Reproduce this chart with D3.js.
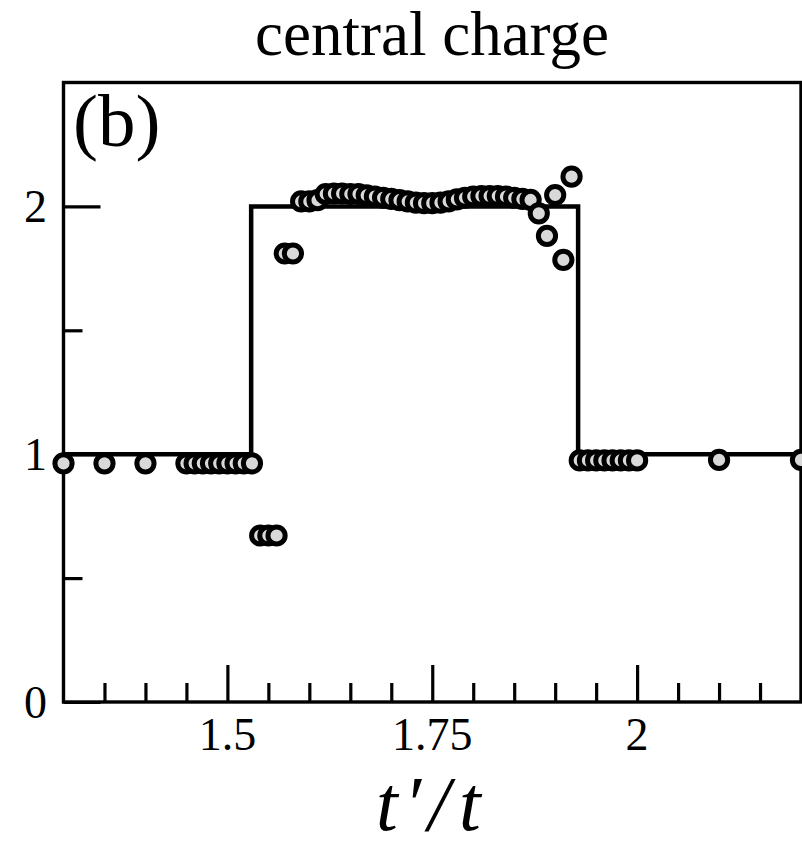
<!DOCTYPE html>
<html>
<head>
<meta charset="utf-8">
<script src="https://cdn.jsdelivr.net/npm/d3@7"></script>
<style>
  html, body { margin: 0; padding: 0; background: #fff; }
  svg { display: block; }
  text { font-family: "Liberation Serif", "DejaVu Serif", serif; fill: #000; }
</style>
</head>
<body>
<svg id="chart" width="802" height="849"></svg>
<script>
// ---- data ----
const tRatio = [1.30, 1.35, 1.40, 1.45, 1.46, 1.47, 1.48, 1.49, 1.50, 1.51, 1.52, 1.53,
  1.54, 1.55, 1.56, 1.57, 1.58,
  1.59, 1.60, 1.61, 1.62, 1.63, 1.64, 1.65, 1.66, 1.67, 1.68, 1.69, 1.70,
  1.71, 1.72, 1.73, 1.74, 1.75, 1.76, 1.77, 1.78, 1.79, 1.80, 1.81, 1.82,
  1.83, 1.84, 1.85, 1.86, 1.87, 1.88, 1.89, 1.90, 1.91, 1.92,
  1.93, 1.94, 1.95, 1.96, 1.97, 1.98, 1.99, 2.00, 2.10, 2.20];
const centralCharge = [0.963, 0.963, 0.963, 0.963, 0.963, 0.963, 0.963, 0.963, 0.963, 0.963, 0.963, 0.963,
  0.672, 0.672, 0.672, 1.81, 1.81,
  2.02, 2.02, 2.025, 2.05, 2.052, 2.052, 2.05, 2.05, 2.045, 2.04, 2.035, 2.03,
  2.025, 2.02, 2.015, 2.013, 2.013, 2.015, 2.02, 2.028, 2.035, 2.04, 2.042, 2.042,
  2.042, 2.04, 2.035, 2.03, 2.026, 1.972, 1.881, 2.046, 1.784, 2.12,
  0.975, 0.975, 0.975, 0.975, 0.975, 0.975, 0.975, 0.975, 0.977, 0.977];
// exact step line (theory)
const stepX = [1.30, 1.529, 1.529, 1.928, 1.928, 2.20];
const stepY = [1, 1, 2, 2, 1, 1];
const xMajorTicks = [1.5, 1.75, 2.0];
const xMinorTicks = [1.35, 1.40, 1.45, 1.55, 1.60, 1.65, 1.70, 1.80, 1.85, 1.90, 1.95, 2.05, 2.10, 2.15];
const yMajorTicks = [0, 1, 2];
const yMinorTicks = [0.5, 1.5];
const xTickLabels = ["1.5", "1.75", "2"];
const yTickLabels = ["0", "1", "2"];
const titleText = "central charge";
const panelLabel = "(b)";

// ---- layout ----
const svg = d3.select("#chart");
const L = 63.5, R = 801, T = 82.5, B = 702;
const x = d3.scaleLinear().domain([1.3, 2.2]).range([L, R]);
const y = d3.scaleLinear().domain([0, 2.5]).range([B, T]);

// ticks (inward)
const g = svg.append("g");
const xMajorAxis = d3.axisBottom(x).tickValues(xMajorTicks).tickSize(-37).tickFormat("");
const xMinorAxis = d3.axisBottom(x).tickValues(xMinorTicks).tickSize(-19).tickFormat("");
const yMajorAxis = d3.axisLeft(y).tickValues(yMajorTicks).tickSize(-37).tickFormat("");
const yMinorAxis = d3.axisLeft(y).tickValues(yMinorTicks).tickSize(-19).tickFormat("");
[[xMajorAxis, `translate(0,${B})`], [xMinorAxis, `translate(0,${B})`],
 [yMajorAxis, `translate(${L},0)`], [yMinorAxis, `translate(${L},0)`]].forEach(([ax, tr]) => {
  const a = g.append("g").attr("transform", tr).call(ax);
  a.select(".domain").remove();
  a.selectAll("line").attr("stroke", "#000").attr("stroke-width", 3.2);
});

// frame
svg.append("rect").attr("x", L).attr("y", T).attr("width", R - L).attr("height", B - T)
  .attr("fill", "none").attr("stroke", "#000").attr("stroke-width", 3.4);

// tick labels
svg.selectAll(".xl").data(xMajorTicks).enter().append("text")
  .attr("x", d => x(d)).attr("y", 750).attr("text-anchor", "middle")
  .attr("font-size", 46).text((d, i) => xTickLabels[i]);
svg.selectAll(".yl").data(yMajorTicks).enter().append("text")
  .attr("x", 47).attr("y", d => y(d) + 16).attr("text-anchor", "end")
  .attr("font-size", 46).text((d, i) => yTickLabels[i]);

// step line
const line = d3.line().x((d, i) => x(stepX[i])).y((d, i) => y(stepY[i]));
svg.append("path").datum(stepX).attr("d", line)
  .attr("fill", "none").attr("stroke", "#000").attr("stroke-width", 4.5)
  .attr("stroke-linejoin", "miter");

// points
svg.append("g").selectAll("circle").data(tRatio).enter().append("circle")
  .attr("cx", d => x(d)).attr("cy", (d, i) => y(centralCharge[i])).attr("r", 8.6)
  .attr("fill", "#d9d9d9").attr("stroke", "#000").attr("stroke-width", 5);

// title & labels
svg.append("text").attr("x", 432).attr("y", 55).attr("text-anchor", "middle")
  .attr("font-size", 63).text(titleText);
svg.append("text").attr("x", 73).attr("y", 146).attr("font-size", 75).text(panelLabel);
const xl = svg.append("text").attr("font-style", "italic").attr("font-size", 78);
xl.append("tspan").attr("x", 376).attr("y", 830).text("t");
xl.append("tspan").attr("x", 404).attr("y", 830).text("\u2032");
xl.append("tspan").attr("x", 428).attr("y", 830).text("/");
xl.append("tspan").attr("x", 459).attr("y", 830).text("t");
</script>
</body>
</html>
